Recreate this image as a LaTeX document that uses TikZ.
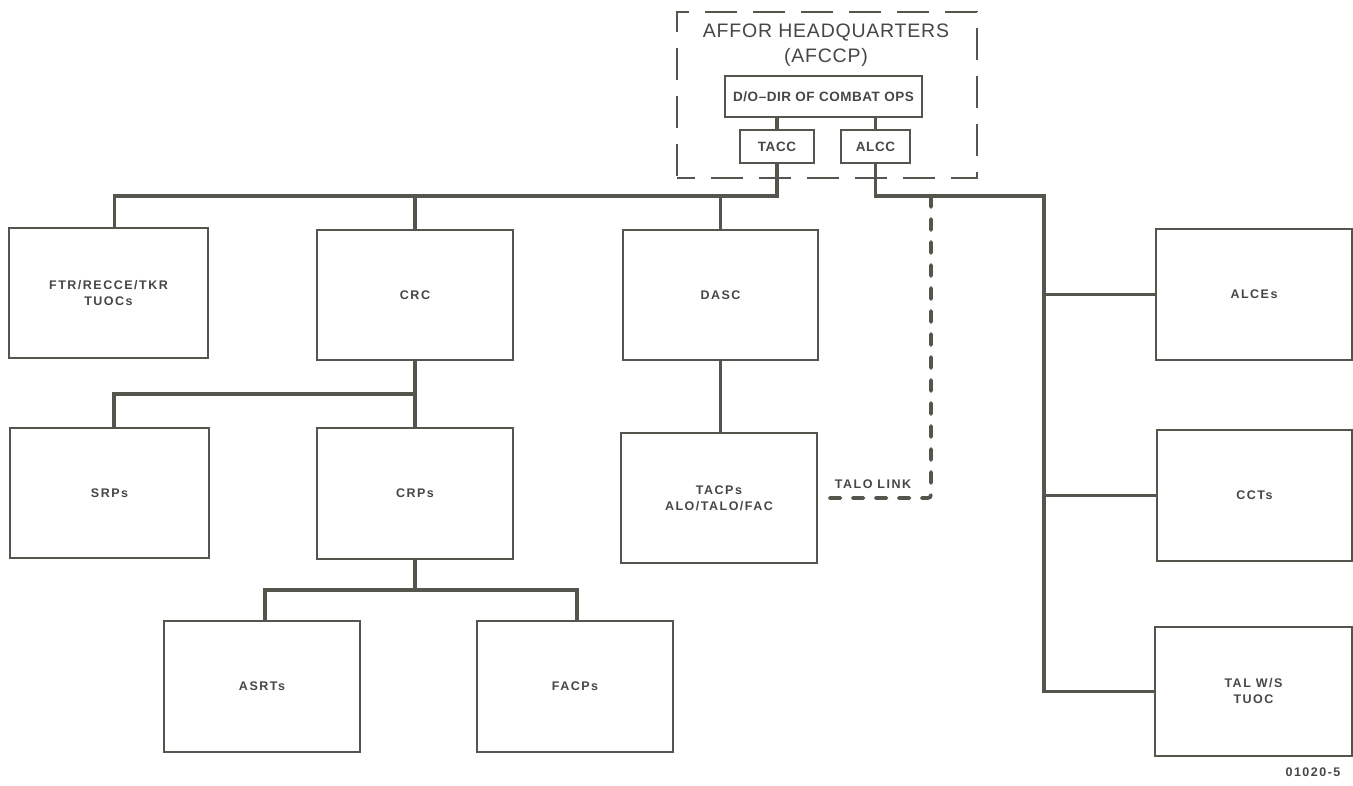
\documentclass[tikz,border=0pt]{standalone}
\usepackage{fontspec}
\setmainfont{Liberation Sans}
\usetikzlibrary{calc}

\definecolor{ink}{RGB}{84,86,78}
\definecolor{txt}{RGB}{70,70,68}

% label fonts
\newcommand\boxfont{\fontsize{12.5}{16}\selectfont\bfseries\addfontfeature{LetterSpace=12}}
\newcommand\hqfont{\fontsize{19.5}{25}\selectfont\addfontfeature{LetterSpace=4}}
\newcommand\cmdfont{\fontsize{13.5}{16}\selectfont\bfseries\addfontfeature{LetterSpace=4}}

\tikzset{
  unit/.style={draw=ink, line width=2.6pt, inner sep=0pt, align=center,
               text=txt, font=\boxfont},
  bigbox/.style={unit, minimum width=197pt, minimum height=130pt},
  cmdbox/.style={unit, font=\cmdfont},
  hqbox/.style={draw=ink, line width=2.4pt, dash pattern=on 32pt off 16pt,
                dash phase=14pt, inner sep=0pt, minimum width=300pt, minimum height=166pt},
  conn/.style={draw=ink, line width=3.8pt, line join=miter},
  talo/.style={draw=ink, line width=3.6pt, line cap=round, dash pattern=on 11pt off 12pt,
               rounded corners=3pt},
  note/.style={text=txt, inner sep=0pt, font=\boxfont}
}

\begin{document}
\begin{tikzpicture}[x=1pt, y=-1pt]
  \useasboundingbox (0,0) rectangle (1353,786);

  % headquarters group
  \node[hqbox] (hq) at (827,95) {};
  \node[text=txt, align=center, font=\hqfont, inner sep=0pt] (hqtitle) at (826,45)
       {AFFOR HEADQUARTERS\\(AFCCP)};
  \node[cmdbox, minimum width=197pt, minimum height=41pt] (do) at (823.5,96.5) {D/O--DIR OF COMBAT OPS};
  \node[cmdbox, minimum width=74pt, minimum height=33pt] (tacc) at (777,146.5) {TACC};
  \node[cmdbox, minimum width=69pt, minimum height=33pt] (alcc) at (875.5,146.5) {ALCC};

  % subordinate units
  \node[bigbox, minimum width=199pt] (ftr) at (108.5,293) {FTR/RECCE/TKR\\TUOCs};
  \node[bigbox, minimum width=196pt] (crc) at (415,295) {CRC};
  \node[bigbox, minimum width=195pt] (dasc) at (720.5,295) {DASC};
  \node[bigbox, minimum width=199pt] (srps) at (109.5,493) {SRPs};
  \node[bigbox, minimum width=196pt, minimum height=131pt] (crps) at (415,493.5) {CRPs};
  \node[bigbox, minimum width=196pt] (tacps) at (719,498) {TACPs\\ALO/TALO/FAC};
  \node[bigbox, minimum width=196pt, minimum height=131pt] (asrts) at (262,686.5) {ASRTs};
  \node[bigbox, minimum width=196pt, minimum height=131pt] (facps) at (575,686.5) {FACPs};
  \node[bigbox, minimum width=196pt, minimum height=131pt] (alces) at (1254,294.5) {ALCEs};
  \node[bigbox, minimum width=195pt, minimum height=131pt] (ccts) at (1254.5,495.5) {CCTs};
  \node[bigbox, minimum width=197pt, minimum height=129pt] (talw) at (1253.5,691.5) {TAL W/S\\TUOC};

  \node[note] (talolbl) at (873,484) {TALO LINK};
  \node[note] (fignum) at (1313,772) {01020-5};

  % junction lines
  \coordinate (bus) at (0,196);
  \coordinate (rbus) at (1044,0);
  \coordinate (talox) at (931,0);
  \coordinate (crcbr) at (0,394);
  \coordinate (crpbr) at (0,590);
  \coordinate (ftrin) at ($(ftr.north)+(6,0)$);
  \coordinate (srpin) at ($(srps.north)+(4.5,0)$);
  \coordinate (asrtin) at ($(asrts.north)+(3,0)$);
  \coordinate (facpin) at ($(facps.north)+(2,0)$);

  % inside headquarters
  \draw[conn] (do.south -| tacc.north) -- (tacc.north);
  \draw[conn] (do.south -| alcc.north) -- (alcc.north);

  % TACC chain
  \draw[conn] (tacc.south) |- (ftrin |- bus) -- (ftrin);
  \draw[conn] (crc.north) -- (crc.north |- bus);
  \draw[conn] (dasc.north) -- (dasc.north |- bus);
  \draw[conn] (dasc.south) -- (dasc.south |- tacps.north);
  \draw[conn] (crc.south) -- (crc.south |- crps.north);
  \draw[conn] (crc.south |- crcbr) -| (srpin);
  \draw[conn] (crps.south) -- (crps.south |- crpbr);
  \draw[conn] (asrtin) -- (asrtin |- crpbr) -- (facpin |- crpbr) -- (facpin);

  % ALCC chain
  \draw[conn] (alcc.south) |- (rbus |- bus) -- (rbus |- talw.west) -- (talw.west);
  \draw[conn] (rbus |- alces.west) -- (alces.west);
  \draw[conn] (rbus |- ccts.west) -- (ccts.west);

  % TALO link
  \draw[talo] (talox |- bus) |- (tacps.east);
\end{tikzpicture}
\end{document}
